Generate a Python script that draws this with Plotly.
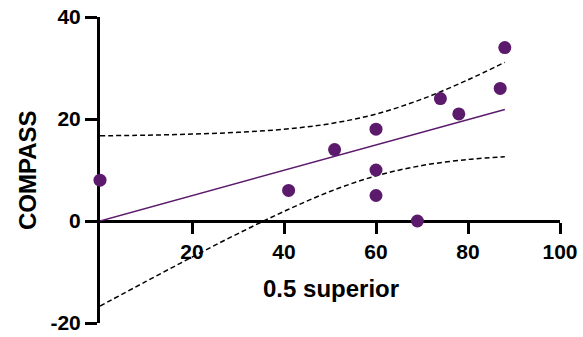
import plotly.graph_objects as go

# Data
x_vals = [0, 41, 51, 60, 60, 60, 69, 74, 78, 87, 88]
y_vals = [8, 6, 14, 18, 10, 5, 0, 24, 21, 26, 34]

# Regression line (endpoints)
fit_x = [0, 88]
fit_y = [0.01, 21.86]

# 95% confidence band
band_x = [0, 10, 20, 30, 40, 50, 60, 70, 80, 88]
band_upper = [16.71, 16.83, 17.04, 17.39, 18.00, 19.08, 20.97, 23.90, 27.69, 31.11]
band_lower = [-16.69, -11.85, -7.08, -2.47, 1.88, 5.78, 8.85, 10.88, 12.07, 12.61]

x_ticks = [20, 40, 60, 80, 100]
y_ticks = [-20, 0, 20, 40]

purple = "#5B1A6B"
font_family = "Liberation Sans"

W, H = 583, 337
ML, MR, MT, MB = 100, 23, 17, 14
plot_w = W - ML - MR
plot_h = H - MT - MB

fig = go.Figure()
fig.add_trace(go.Scatter(x=band_x, y=band_upper, mode="lines", line=dict(color="black", width=1.5, dash="5px,3px", shape="spline"), hoverinfo="skip"))
fig.add_trace(go.Scatter(x=band_x, y=band_lower, mode="lines", line=dict(color="black", width=1.5, dash="5px,3px", shape="spline"), hoverinfo="skip"))
fig.add_trace(go.Scatter(x=fit_x, y=fit_y, mode="lines", line=dict(color=purple, width=1.5)))
fig.add_trace(go.Scatter(x=x_vals, y=y_vals, mode="markers", marker=dict(color=purple, size=13), cliponaxis=False))

tickfont = dict(size=21, family=font_family, weight=700, color="black")

fig.update_layout(
    width=W, height=H,
    margin=dict(l=ML, r=MR, t=MT, b=MB),
    paper_bgcolor="white", plot_bgcolor="white",
    showlegend=False,
    font=dict(family=font_family, color="black"),
    xaxis=dict(
        range=[0, 100], tickvals=x_ticks, ticktext=[str(v) for v in x_ticks],
        showgrid=False, zeroline=False, showline=True, linecolor="black", linewidth=3,
        ticks="outside", ticklen=11, tickwidth=3, tickcolor="black",
        tickfont=tickfont,
        anchor="free", position=1/3, layer="below traces", automargin=False,
    ),
    yaxis=dict(
        range=[-20, 40], tickvals=y_ticks, ticktext=[str(v) for v in y_ticks],
        showgrid=False, zeroline=False, showline=True, linecolor="black", linewidth=3,
        ticks="outside", ticklen=12, tickwidth=3, tickcolor="black",
        tickfont=tickfont,
        layer="below traces", automargin=False,
    ),
)
fig.add_annotation(text="0.5 superior", x=(331 - ML) / plot_w, xref="paper",
                   y=(H - MB - 288) / plot_h, yref="paper", showarrow=False,
                   xanchor="center", yanchor="middle",
                   font=dict(size=24, family=font_family, weight=700))
fig.add_annotation(text="COMPASS", textangle=-90, x=(27 - ML) / plot_w, xref="paper",
                   y=0.5, yref="paper", showarrow=False, xanchor="center", yanchor="middle",
                   font=dict(size=24, family=font_family, weight=700))

fig.write_html("out.html")
